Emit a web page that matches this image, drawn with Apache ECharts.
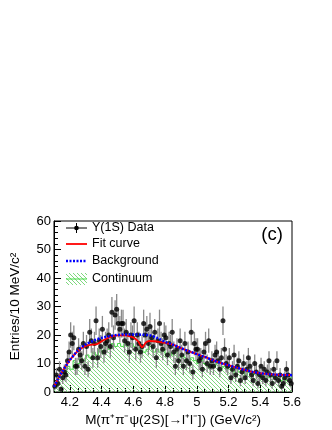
<!DOCTYPE html>
<html>
<head>
<meta charset="utf-8">
<script src="https://cdn.jsdelivr.net/npm/echarts@6/dist/echarts.min.js"></script>
<style>
  html, body { margin: 0; padding: 0; background: #fff; }
  #chart { width: 332px; height: 430px; }
</style>
</head>
<body>
<div id="chart"></div>
<script>
// bins of 10 MeV from 4.10 to 5.60
var binStart = 4.10;
var binWidth = 0.01;
var counts = [
  2, 6, 3, 8, 1, 5, 7, 6, 11, 14,
  20, 17, 19, 9, 9, 15, 13, 11, 17, 9,
  16, 8, 21, 18, 12, 17, 25, 12, 18, 16,
  22, 14, 17, 18, 20, 16, 28, 19, 27, 29,
  24, 22, 24, 24, 18, 21, 17, 14, 20, 19,
  25, 15, 20, 17, 14, 16, 24, 20, 22, 17,
  23, 19, 16, 21, 12, 18, 24, 17, 15, 20,
  19, 13, 17, 16, 21, 14, 9, 15, 11, 18,
  13, 9, 17, 11, 14, 10, 21, 7, 17, 15,
  15, 11, 12, 8, 14, 17, 10, 18, 9, 11,
  9, 13, 14, 11, 8, 12, 25, 15, 10, 9,
  12, 5, 8, 13, 6, 9, 11, 4, 7, 10,
  5, 8, 12, 9, 6, 4, 10, 7, 3, 6,
  9, 5, 8, 4, 7, 11, 6, 3, 8, 5,
  11, 4, 6, 2, 3, 5, 8, 6, 4, 3
];

// continuum histogram, 20 MeV bins (lower edges)
var contEdges = [
  4.10, 4.12, 4.14, 4.16, 4.18, 4.20, 4.22, 4.24, 4.26, 4.28,
  4.30, 4.32, 4.34, 4.36, 4.38, 4.40, 4.42, 4.44, 4.46, 4.48,
  4.50, 4.52, 4.54, 4.56, 4.58, 4.60, 4.62, 4.64, 4.66, 4.68,
  4.70, 4.72, 4.74, 4.76, 4.78, 4.80, 4.82, 4.84, 4.86, 4.88,
  4.90, 4.92, 4.94, 4.96, 4.98, 5.00, 5.02, 5.04, 5.06, 5.08,
  5.10, 5.12, 5.14, 5.16, 5.18, 5.20, 5.22, 5.24, 5.26, 5.28,
  5.30, 5.32, 5.34, 5.36, 5.38, 5.40, 5.42, 5.44, 5.46, 5.48,
  5.50, 5.52, 5.54, 5.56, 5.58, 5.60
];
var contVals = [
  2, 5, 7, 6, 9, 8, 11, 10, 12, 11,
  13, 12, 14, 13, 15, 14, 16, 15, 17, 16,
  17, 16, 17, 16, 17, 16, 15, 16, 14, 15,
  16, 14, 15, 14, 15, 13, 14, 13, 14, 12,
  13, 12, 11, 12, 11, 10, 11, 10, 9, 10,
  9, 10, 8, 9, 8, 9, 7, 8, 7, 8,
  6, 7, 6, 7, 6, 5, 6, 5, 6, 5,
  5, 4, 5, 4, 5, 5
];

// background curve
var bgX = [4.10, 4.125, 4.15, 4.175, 4.20, 4.25, 4.30, 4.35, 4.40, 4.45, 4.50, 4.55, 4.60, 4.65, 4.70, 4.75, 4.80,
           4.85, 4.90, 4.95, 5.00, 5.05, 5.10, 5.15, 5.20, 5.25, 5.30, 5.35, 5.40, 5.45, 5.50, 5.55, 5.60];
var bgY = [1.8, 4.5, 7.0, 9.2, 11.2, 14.5, 16.7, 18.0, 19.0, 19.6, 20.0, 20.2, 20.2, 20.1, 19.9, 19.0, 17.6,
           16.6, 15.4, 14.3, 13.3, 12.3, 11.2, 10.2, 9.4, 8.6, 7.8, 7.1, 6.6, 6.3, 6.1, 6.0, 5.9];

// total fit curve
var fitX = [4.10, 4.125, 4.15, 4.175, 4.20, 4.25, 4.30, 4.34, 4.37, 4.40, 4.45, 4.50, 4.55, 4.58, 4.61, 4.63, 4.645,
            4.655, 4.665, 4.68, 4.70, 4.73, 4.76, 4.80, 4.85, 4.90, 4.95, 5.00, 5.05, 5.10, 5.15, 5.20, 5.25,
            5.30, 5.35, 5.40, 5.45, 5.50, 5.55, 5.60];
var fitY = [1.8, 4.5, 7.0, 9.2, 11.2, 14.4, 16.2, 16.6, 16.8, 17.8, 19.2, 19.9, 19.9, 19.5, 18.8, 17.8, 16.4,
            15.7, 16.2, 17.4, 17.9, 17.8, 17.6, 17.2, 16.6, 15.4, 14.3, 13.3, 12.3, 11.2, 10.2, 9.4, 8.6,
            7.8, 7.1, 6.6, 6.3, 6.1, 6.0, 5.9];

var xMajorTicks = [4.2, 4.4, 4.6, 4.8, 5.0, 5.2, 5.4, 5.6];
var xMinorTicks = [4.15, 4.25, 4.3, 4.35, 4.45, 4.5, 4.55, 4.65, 4.7, 4.75, 4.85, 4.9, 4.95,
                   5.05, 5.1, 5.15, 5.25, 5.3, 5.35, 5.45, 5.5, 5.55];

var FONT = '"Liberation Sans", Arial, Helvetica, sans-serif';

function makeHatch() {
  var c = document.createElement('canvas');
  c.width = 4; c.height = 4;
  var g = c.getContext('2d');
  g.strokeStyle = '#7ed87e';
  g.lineWidth = 1;
  g.beginPath();
  g.moveTo(-1, -1); g.lineTo(5, 5);
  g.moveTo(-1, 3); g.lineTo(1, 5);
  g.moveTo(3, -1); g.lineTo(5, 1);
  g.stroke();
  return c;
}
var hatch = { image: makeHatch(), repeat: 'repeat' };

var points = counts.map(function (v, i) {
  return [+(binStart + binWidth * (i + 0.5)).toFixed(3), v];
});
var errs = points.map(function (p) {
  return [p[0], p[1], Math.sqrt(p[1])];
});
var contData = contEdges.map(function (x, i) { return [x, contVals[i]]; });
var bgData = bgX.map(function (x, i) { return [x, bgY[i]]; });
var fitData = fitX.map(function (x, i) { return [x, fitY[i]]; });

var chart = echarts.init(document.getElementById('chart'), null, { renderer: 'canvas' });

var option = {
  animation: false,
  backgroundColor: '#fff',
  grid: {
    left: 52, right: 40, top: 221, bottom: 38,
    show: true, borderColor: '#000', borderWidth: 1, backgroundColor: 'transparent'
  },
  xAxis: [
    {
      type: 'value', min: 4.1, max: 5.6,
      name: 'M(π⁺π⁻ψ(2S)[→l⁺l⁻]) (GeV/c²)',
      nameLocation: 'middle', nameGap: 21,
      nameTextStyle: { fontFamily: FONT, fontSize: 13.5, color: '#000' },
      axisLine: { onZero: false, lineStyle: { color: '#000', width: 1 } },
      axisTick: { inside: true, length: 7, customValues: xMajorTicks, lineStyle: { color: '#000' } },
      axisLabel: { customValues: xMajorTicks, margin: 4, fontFamily: FONT, fontSize: 13, color: '#000' },
      splitLine: { show: false }
    },
    {
      type: 'value', min: 4.1, max: 5.6, position: 'bottom',
      axisLine: { show: false },
      axisTick: { inside: true, length: 4, customValues: xMinorTicks, lineStyle: { color: '#000' } },
      axisLabel: { show: false },
      splitLine: { show: false }
    }
  ],
  yAxis: {
    type: 'value', min: 0, max: 60, interval: 10,
    name: 'Entries/10 MeV/c²',
    nameLocation: 'middle', nameGap: 32,
    nameTextStyle: { fontFamily: FONT, fontSize: 13.5, color: '#000' },
    axisLine: { show: true, lineStyle: { color: '#000', width: 1 } },
    axisTick: { inside: true, length: 7, lineStyle: { color: '#000' } },
    minorTick: { show: true, splitNumber: 5, length: 4, lineStyle: { color: '#000' } },
    axisLabel: { margin: 3, fontFamily: FONT, fontSize: 13, color: '#000' },
    splitLine: { show: false }
  },
  series: [
    {
      name: 'Continuum', type: 'line', step: 'end', symbol: 'none',
      data: contData,
      lineStyle: { color: '#44dd44', width: 1 },
      areaStyle: { color: hatch, opacity: 1 },
      z: 1
    },
    {
      name: 'err', type: 'custom',
      data: errs,
      renderItem: function (params, api) {
        var x = api.value(0), y = api.value(1), e = api.value(2);
        var lo = api.coord([x, Math.max(0, y - e)]);
        var hi = api.coord([x, y + e]);
        return {
          type: 'line',
          shape: { x1: lo[0], y1: lo[1], x2: hi[0], y2: hi[1] },
          style: { stroke: '#8a8a8a', lineWidth: 1.3 }
        };
      },
      z: 2
    },
    {
      name: 'Data', type: 'scatter', data: points,
      symbol: 'circle', symbolSize: 5,
      itemStyle: { color: '#000' },
      z: 3
    },
    {
      name: 'Fit curve', type: 'line', data: fitData, smooth: 0.3, symbol: 'none',
      lineStyle: { color: '#ff0000', width: 1.8 },
      z: 4
    },
    {
      name: 'Background', type: 'line', data: bgData, smooth: 0.3, symbol: 'none',
      lineStyle: { color: '#0000ff', width: 2.5, type: [2, 1.5] },
      z: 5
    }
  ],
  graphic: [
    { type: 'line', shape: { x1: 66, y1: 228, x2: 87, y2: 228 }, style: { stroke: '#000', lineWidth: 1 } },
    { type: 'line', shape: { x1: 76.5, y1: 223, x2: 76.5, y2: 233 }, style: { stroke: '#000', lineWidth: 1 } },
    { type: 'circle', shape: { cx: 76.5, cy: 228, r: 2.3 }, style: { fill: '#000' } },
    { type: 'text', x: 92, y: 228, style: { text: 'Υ(1S) Data', font: '12.5px ' + FONT, fill: '#000', verticalAlign: 'middle' } },
    { type: 'line', shape: { x1: 66, y1: 244, x2: 87, y2: 244 }, style: { stroke: '#ff0000', lineWidth: 1.8 } },
    { type: 'text', x: 92, y: 244, style: { text: 'Fit curve', font: '12.5px ' + FONT, fill: '#000', verticalAlign: 'middle' } },
    { type: 'line', shape: { x1: 66, y1: 261, x2: 87, y2: 261 }, style: { stroke: '#0000ff', lineWidth: 2.5, lineDash: [2, 1.5] } },
    { type: 'text', x: 92, y: 261, style: { text: 'Background', font: '12.5px ' + FONT, fill: '#000', verticalAlign: 'middle' } },
    { type: 'rect', shape: { x: 66, y: 273, width: 21, height: 12 }, style: { fill: hatch, stroke: null } },
    { type: 'line', shape: { x1: 66, y1: 279, x2: 87, y2: 279 }, style: { stroke: '#44dd44', lineWidth: 1 } },
    { type: 'text', x: 92, y: 279, style: { text: 'Continuum', font: '12.5px ' + FONT, fill: '#000', verticalAlign: 'middle' } },
    { type: 'text', x: 272, y: 235, style: { text: '(c)', font: '18.5px ' + FONT, fill: '#000', align: 'center', verticalAlign: 'middle' } }
  ]
};

chart.setOption(option);
</script>
</body>
</html>
